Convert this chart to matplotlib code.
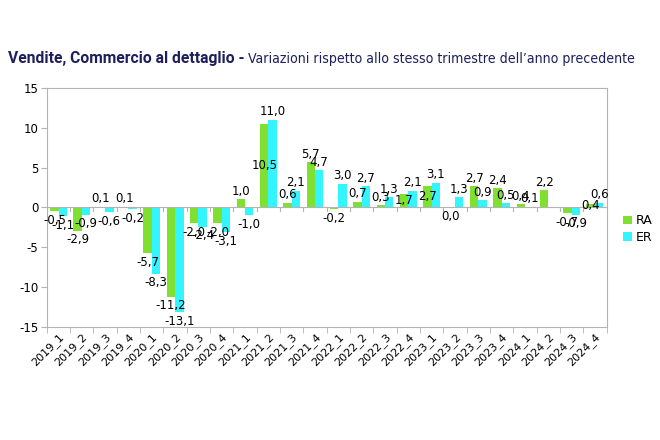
import numpy as np
import matplotlib.pyplot as plt

periods = ['2019_1', '2019_2', '2019_3', '2019_4', '2020_1', '2020_2', '2020_3', '2020_4',
           '2021_1', '2021_2', '2021_3', '2021_4', '2022_1', '2022_2', '2022_3', '2022_4',
           '2023_1', '2023_2', '2023_3', '2023_4', '2024_1', '2024_2', '2024_3', '2024_4']
ra = [-0.5, -2.9, 0.1, 0.1, -5.7, -11.2, -2.0, -2.0,
      1.0, 10.5, 0.6, 5.7, -0.2, 0.7, 0.3, 1.7,
      2.7, 0.0, 2.7, 2.4, 0.4, 2.2, -0.7, 0.4]
er = [-1.1, -0.9, -0.6, -0.2, -8.3, -13.1, -2.4, -3.1,
      -1.0, 11.0, 2.1, 4.7, 3.0, 2.7, 1.3, 2.1,
      3.1, 1.3, 0.9, 0.5, 0.1, np.nan, -0.9, 0.6]

green = '#80e030'
cyan = '#33f5ff'
navy = '#1c1f5c'
grey = '#b3b3b3'

fig = plt.figure(figsize=(6.6, 4.4), dpi=100)
ax = fig.add_axes([0.071, 0.257, 0.848, 0.543])

x = np.arange(len(periods))
w = 0.36
ax.bar(x - w/2, ra, w, color=green, label='RA')
ax.bar(x + w/2, er, w, color=cyan, label='ER')

def fmt(v):
    return ('%.1f' % v).replace('.', ',')

for i in range(len(periods)):
    for xi, v, other in ((x[i] - w/2, ra[i], er[i]), (x[i] + w/2, er[i], None)):
        if np.isnan(v):
            continue
        if other is not None and 0 < v < other and other - v <= 0.5:
            # RA label pushed inside when it would collide with the ER label
            ax.text(xi, v / 2, fmt(v), ha='center', va='center', fontsize=8.5)
        elif v >= 0 and not (v == 0 and other is not None):
            ax.annotate(fmt(v), (xi, v), xytext=(0, 1), textcoords='offset points',
                        ha='center', va='bottom', fontsize=8.5)
        else:
            ax.annotate(fmt(v), (xi, v), xytext=(0, -2), textcoords='offset points',
                        ha='center', va='top', fontsize=8.5)

ax.axhline(0, color=grey, lw=0.8)
for xb in np.arange(-0.5, len(periods), 1.0):
    ax.plot([xb, xb], [0, -0.45], color=grey, lw=0.8)

ax.set_xlim(-0.5, len(periods) - 0.5)
ax.set_ylim(-15, 15)
ax.set_yticks([-15, -10, -5, 0, 5, 10, 15])
ax.set_yticklabels(['-15', '-10', '-5', '0', '5', '10', '15'], fontsize=8.5)
ax.set_xticks(x)
ax.set_xticklabels(periods, rotation=45, ha='right', rotation_mode='anchor', fontsize=8)
ax.set_xticks(np.arange(-0.5, len(periods), 1.0), minor=True)
ax.tick_params(axis='x', which='major', length=0, pad=3)
ax.tick_params(axis='x', which='minor', length=4, color=grey)
ax.tick_params(axis='y', length=4, color=grey, pad=2)
for s in ax.spines.values():
    s.set_color(grey)
    s.set_linewidth(0.8)

ax.legend(loc='center left', bbox_to_anchor=(1.01, 0.41), frameon=False, fontsize=9,
          handlelength=0.7, handleheight=0.7, handletextpad=0.3, labelspacing=0.25)

# title in two parts: bold lead, normal remainder
r = fig.canvas.get_renderer()
t1 = fig.text(8 / 660, 1 - 63 / 440, 'Vendite, Commercio al dettaglio -', fontsize=11,
              fontweight='bold', color=navy, va='baseline', family='Roboto')
bb = t1.get_window_extent(r)
t1.set_fontsize(11 * 237 / bb.width)
bb = t1.get_window_extent(r)
t2 = fig.text((bb.x1 + 4) / 660, 1 - 63 / 440,
              'Variazioni rispetto allo stesso trimestre dell\u2019anno precedente',
              fontsize=11, color=navy, va='baseline', family='DejaVu Sans',
              fontstretch='condensed')
bb2 = t2.get_window_extent(r)
t2.set_fontsize(11 * (633 - bb.x1 - 4) / bb2.width)

fig.savefig('out.png', dpi=100)
